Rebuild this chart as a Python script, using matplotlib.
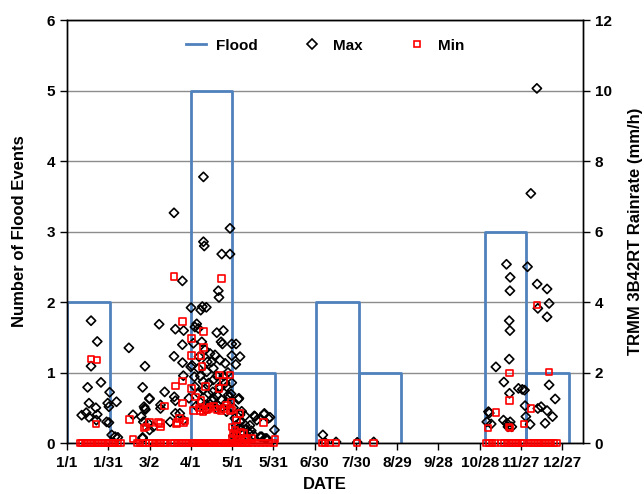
import matplotlib
matplotlib.use("Agg")
import matplotlib.pyplot as plt
from matplotlib.lines import Line2D

plt.rcParams['font.family'] = ['Liberation Sans', 'DejaVu Sans']
plt.rcParams['font.weight'] = 'bold'

# x in days since 1/1
tick_days = [0, 30, 60, 90, 120, 150, 180, 210, 240, 270, 300, 330, 360]
tick_labels = ['1/1', '1/31', '3/2', '4/1', '5/1', '5/31', '6/30', '7/30',
               '8/29', '9/28', '10/28', '11/27', '12/27']

# monthly flood counts (month start day, month end day, count)
flood_start = [0, 90, 120, 181, 212, 304, 334]
flood_end = [31, 120, 151, 212, 243, 334, 365]
flood_count = [2, 5, 1, 2, 1, 3, 1]

# daily maximum rain rate (mm/h)
max_day = [17.5, 22, 45, 17.5, 56.7, 24.7, 15, 55, 31, 60, 16, 36, 29.6, 30.5, 21, 56, 57,
           14, 10.7, 16, 22, 48, 54, 21.3, 28.8, 30.5, 59, 32.5, 37, 35, 55,
           77.8, 83.9, 90.2, 67, 78.8, 84.8, 83.9, 77.8, 84, 90, 71, 84.6, 78.8, 56.5,
           68, 68, 78.8, 82, 84.6, 75, 55.5, 55, 62.8, 60, 59.9, 78,
           99.2, 118.5, 99.2, 99.8, 112.5, 118.5, 110, 110.5, 97.2, 98.4, 101.3, 94.3,
           95.5, 108.9, 113.7, 112, 113, 98, 100.4, 104, 107.6, 119.8, 111.3, 115,
           101.6, 106.4, 95.5, 92.6, 99, 106.4, 116, 88.7, 95.5, 102.8, 108.9, 112.5,
           117.3, 100.4, 105, 108.9, 116, 91.9, 93,
           93, 97, 103, 105, 109, 111, 114, 117, 94, 97, 101, 104, 107, 110, 113, 116,
           118, 96, 102, 91, 99, 106, 111, 115,
           122.9, 125.8, 122.7, 119.8, 125, 119.3, 136.2, 143.3, 147.6, 150.8, 138,
           132.6, 140.4, 145.2, 125.8, 129.5, 119.8, 124.6, 129.5, 136.7, 143.5, 146.4,
           135.5, 141.6, 144, 125.8,
           121, 122, 123, 124, 126, 127, 128, 130, 131, 133, 134, 121, 124, 127,
           186, 187.6, 195.6, 211, 223,
           319.5, 322.2, 322, 321.5, 322, 321.5, 311.8, 317.6, 321.7, 328.2, 306.4,
           305.2, 308.4, 317.3, 319.8, 322.2, 323.4, 341.6, 337.2, 334.8, 341.8, 349,
           342.3, 350.5, 349, 350.5, 332.6, 354.9, 333, 342.3, 344.7, 349, 353, 333.6,
           336.7, 347.6, 307, 320.6, 331]
max_rain = [3.47, 2.88, 2.7, 2.18, 2.18, 1.72, 1.58, 1.58, 1.44, 1.25, 1.13, 1.17, 1.13, 1.03, 1.0, 1.03, 0.95,
            0.86, 0.79, 0.73, 0.81, 0.8, 0.75, 0.65, 0.6, 0.58, 0.56, 0.23, 0.16, 0.18, 0.13,
            6.53, 4.6, 3.84, 3.37, 3.23, 3.19, 2.79, 2.46, 2.28, 2.16, 1.45, 1.91, 1.2, 0.98,
            1.08, 0.98, 0.84, 0.84, 0.65, 0.6, 0.6, 0.16, 0.46, 0.37, 1.27, 1.31,
            7.55, 6.09, 5.71, 5.59, 5.36, 5.36, 4.32, 4.13, 3.77, 3.87, 3.85, 3.38,
            3.25, 3.13, 3.19, 2.87, 2.81, 2.87, 2.64, 2.54, 2.5, 2.81, 2.35, 2.26,
            2.02, 2.12, 2.12, 1.88, 1.74, 1.79, 1.6, 1.27, 1.41, 1.41, 1.36, 1.22,
            1.36, 1.08, 1.22, 0.98, 0.89, 2.83, 3.29,
            1.6, 1.9, 1.7, 2.3, 1.9, 1.6, 1.9, 2.0, 1.05, 1.15, 0.95, 1.1, 1.25, 1.05, 1.0, 1.15,
            1.3, 2.45, 2.3, 2.2, 1.5, 1.45, 1.55, 1.7,
            2.81, 2.45, 2.23, 2.48, 1.27, 1.39, 0.77, 0.81, 0.73, 0.37, 0.65,
            0.27, 0.18, 0.13, 0.8, 0.51, 1.71, 1.24, 0.77, 0.75, 0.84, 0.7,
            0.23, 0.18, 0.13, 0.46,
            1.0, 0.7, 0.5, 0.35, 0.6, 0.9, 0.3, 0.4, 0.2, 0.5, 0.35, 0.2, 0.15, 0.1,
            0.23, 0.02, 0.03, 0.02, 0.03,
            5.07, 4.7, 4.32, 3.47, 3.19, 2.38, 2.16, 1.73, 1.41, 1.55, 0.89,
            0.6, 0.54, 0.65, 0.56, 0.6, 0.46, 10.06, 7.08, 5.0, 4.51, 4.37,
            3.82, 3.96, 3.58, 1.65, 1.5, 1.25, 1.06, 0.98, 1.03, 0.92, 0.75, 0.75,
            0.53, 0.56, 0.85, 0.46, 1.52]

# daily minimum rain rate (mm/h), non-zero values
min_day = [17.5, 22, 21, 45.3, 48, 56, 57.5, 60, 77.8, 83.9, 90.4, 90.4, 78.8, 84, 90.4, 84,
           71, 81.7, 84.6, 79.8, 68, 66.4, 68, 85.8, 80,
           112.5, 99.2, 99.2, 97.5, 110.8, 118.5, 113.7, 110.5, 100.8, 93.6, 97.5, 91.9,
           96.7, 101.6, 106.4, 112, 116, 119.8, 119.3, 98, 96.5, 103, 109, 114, 104, 99,
           118.5, 125.8, 123.4, 142.8, 151.3, 122.2, 128.2, 129.5, 123.4, 119.8, 134.3,
           120, 126, 121, 124, 131,
           321.7, 321.7, 311.8, 306, 322.2, 341.6, 350.5, 337.2, 332.4, 321.5]
min_rain = [2.39, 2.35, 0.54, 0.67, 0.12, 0.42, 0.45, 0.58, 4.72, 3.44, 2.49, 2.96, 1.62, 1.76, 1.55, 1.13,
            1.05, 0.7, 0.58, 0.54, 0.56, 0.58, 0.45, 0.63, 0.58,
            4.67, 3.16, 2.71, 2.47, 1.93, 1.93, 1.74, 1.55, 1.6, 1.31, 1.2, 0.92,
            0.92, 0.95, 1.03, 0.92, 1.08, 0.94, 1.17, 2.17, 1.0, 0.97, 0.95, 0.98, 1.02, 0.9,
            0.92, 0.84, 0.65, 0.58, 0.11, 0.37, 0.27, 0.13, 0.23, 0.13, 0.13,
            0.45, 0.3, 0.25, 0.1, 0.1,
            1.99, 1.2, 0.87, 0.42, 0.42, 3.92, 2.02, 0.98, 0.54, 0.45]

# days where the minimum rain rate was zero
zero_min_day = [9.5, 11, 13, 15, 17, 19, 21, 23, 25, 27, 29, 31, 33, 35, 37, 39,
                51, 53, 55, 57, 60, 62, 64, 66, 68, 70, 72,
                76, 78, 80, 82, 84, 86, 88, 90, 91.5, 93, 94.5, 96, 97.5, 99, 100.5,
                102, 103.5, 105, 106.5, 108, 109.5, 111, 112.5, 114, 115.5, 117,
                118.5, 120, 121.5, 123, 124.5, 126, 127.5, 129, 130.5,
                132, 135, 138, 141, 144, 147, 150,
                185.5, 187.5, 191, 195.6, 211, 223,
                305, 307, 309, 311, 316, 318, 320, 322, 324, 326, 328, 330, 332,
                336, 338, 340, 342, 344, 346, 348, 350, 352, 354, 356]
zero_min_rain = [0.0] * len(zero_min_day)

blue = '#4f81bd'

fig = plt.figure(figsize=(6.44, 4.94), dpi=100)
ax1 = fig.add_axes([0.104, 0.1032, 0.801, 0.8563])
ax2 = ax1.twinx()

for s, e, c in zip(flood_start, flood_end, flood_count):
    ax1.plot([s, s, e, e], [0, c, c, 0], color=blue, lw=2, zorder=2)

ax1.set_xlim(0, 375)
ax1.set_ylim(0, 6)
ax1.set_yticks(range(0, 7))
ax1.set_xticks(tick_days)
ax1.set_xticklabels(tick_labels)
ax1.yaxis.grid(True, color='#8c8c8c', lw=1)
ax1.set_axisbelow(True)

ax2.scatter(max_day, max_rain, marker='D', s=22, facecolors='none',
            edgecolors='black', linewidths=1.2, zorder=3)
ax2.scatter(min_day + zero_min_day, min_rain + zero_min_rain, marker='s', s=22,
            facecolors='none', edgecolors='red', linewidths=1.2, zorder=4, clip_on=False)
ax2.set_ylim(0, 12)
ax2.set_yticks(range(0, 13, 2))

for ax in (ax1, ax2):
    ax.tick_params(direction='out', length=5, width=1, labelsize=11, colors='black')
    for sp in ax.spines.values():
        sp.set_linewidth(1)
        sp.set_color('black')
ax1.tick_params(axis='x', pad=4)

ax1.set_xlabel('DATE', fontsize=12, fontweight='bold', labelpad=5.5)
ax1.set_ylabel('Number of Flood Events', fontsize=12, fontweight='bold', labelpad=14)
ax2.set_ylabel('TRMM 3B42RT Rainrate (mm/h)', fontsize=12, fontweight='bold', labelpad=12)

handles = [Line2D([], [], color=blue, lw=2),
           Line2D([], [], marker='D', ls='none', mfc='none', mec='black', ms=5, mew=1.2),
           Line2D([], [], marker='s', ls='none', mfc='none', mec='red', ms=5, mew=1.2)]
ax2.legend(handles, ['Flood', 'Max', 'Min'], ncol=3, frameon=False,
           loc='center', bbox_to_anchor=(0.5, 0.939), fontsize=11,
           handlelength=1.3, handletextpad=0.7, columnspacing=2.9)

fig.savefig('out.png', dpi=100)
